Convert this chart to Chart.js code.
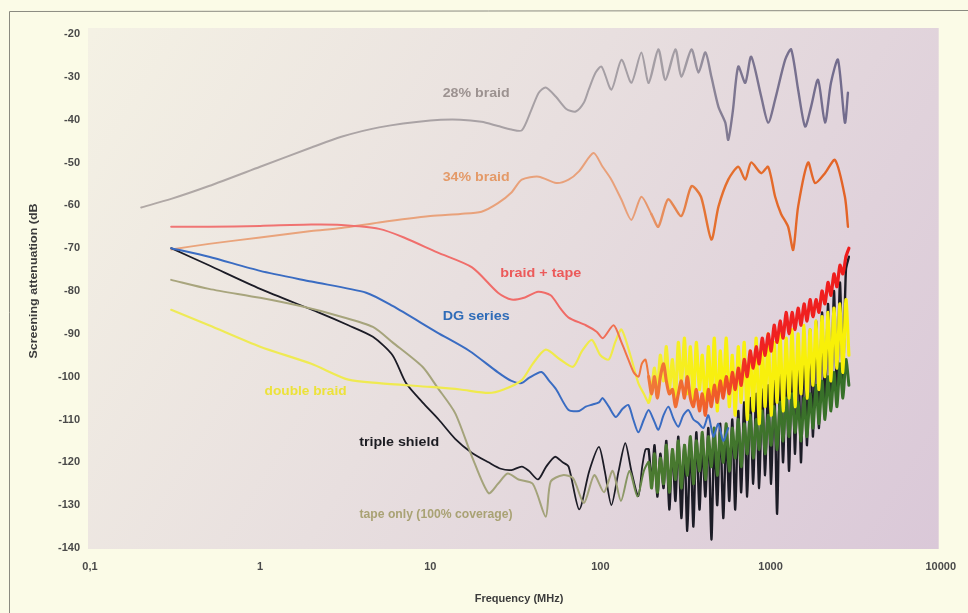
<!DOCTYPE html>
<html><head><meta charset="utf-8">
<script src="https://cdn.jsdelivr.net/npm/chart.js@4/dist/chart.umd.min.js"></script>
<style>html,body{margin:0;padding:0;background:#fbfbe7;}canvas{display:block}</style>
</head><body>
<canvas id="c" width="968" height="613"></canvas>
<script>
// ---------- axis ticks ----------
const xTickValues = [0.1, 1, 10, 100, 1000, 10000];
const xTickLabels = ['0,1', '1', '10', '100', '1000', '10000'];
const yTickValues = [-140, -130, -120, -110, -100, -90, -80, -70, -60, -50, -40, -30, -20];

// ---------- 28% braid ----------
const braid28Freq = [0.2,0.3,0.5,1,2,3,5,10,15,20,25,30,34.5,39,43.4,47.7,54.6,63,71.6,80,85.3,93.7,101.6,116,133,152,174,192,219,241,276,299,343,377,414,449,494,542,564,600,646,710,769,881,968,1064,1219,1321,1452,1596,1730,1901,2089,2265,2489,2735,2850];
const braid28Db = [-60.5,-58.5,-55.5,-51,-46.5,-44,-41.8,-40.2,-40,-40.5,-41.5,-42.3,-42.5,-38,-33.7,-32.5,-34.6,-37.5,-38.1,-36,-33,-29,-27.6,-33,-26,-31.4,-24.3,-31.4,-23.6,-30.7,-23.6,-30,-23.6,-29,-24.3,-30,-37,-40.7,-44.7,-38,-27.6,-31.4,-25.3,-34.6,-40.7,-35.3,-26,-23.6,-33,-41.6,-37,-30.7,-40.7,-31.4,-26,-40.7,-33.7];

// ---------- 34% braid ----------
const braid34Freq = [0.3,0.5,1,2,3,5,10,15,20,25,30,34.5,43.4,55,65,75,91,103,116,133,152,174,199,219,250,299,343,390,449,494,564,646,710,769,881,968,1064,1153,1268,1358,1452,1661,1825,2089,2392,2735,2850];
const braid34Db = [-70.3,-69,-67.5,-66,-65.3,-64,-62.5,-62,-61.5,-59.5,-57,-54,-53.3,-54.8,-54,-52,-47.8,-51,-54,-58.7,-63.4,-58,-62,-65,-58.6,-62.5,-55.5,-58,-68,-60.3,-54,-51,-54,-50,-52.5,-51,-58,-62,-65,-70.4,-60.3,-50,-54.8,-52.5,-49.4,-58,-65];

// ---------- common high-frequency grid (MHz) ----------
const hfFreq = [192,200,208,216,225,235,244,254,265,276,287,299,312,324,338,352,366,382,397,414,431,449,467,486,506,527,549,572,596,620,646,672,700,729,759,791,823,857,893,929,968,1008,1050,1093,1138,1185,1234,1285,1338,1393,1451,1511,1573,1638,1706,1776,1850,1926,2006,2089,2175,2265,2358,2456,2557,2663,2773,2887];

// ---------- braid + tape ----------
const braidTapeLfFreq = [0.3,0.5,1,2,3,5,7,11,17.6,25,30,36,43,51,58,65,82,95,103.5,119.5,133,146,157,167.5,175,184];
const braidTapeLfDb = [-65,-65,-64.8,-64.5,-64.6,-65.5,-67.5,-71,-74.5,-80.4,-82,-81.5,-80.2,-81,-84,-86.2,-88,-89.5,-91,-88,-92,-96,-99,-100,-97,-96];
const braidTapeHfDb = [-100,-104,-100,-105,-100,-97,-101,-104,-103,-107,
  -104,-101,-105,-100,-105,-107,-103,-108,-104,-109,
  -103,-107,-102,-106,-101,-105,-100,-104,-99,-103,
  -98,-102,-96,-100,-94,-98,-93,-97,-91,-95,
  -90,-94,-88,-92,-87,-91,-85,-90,-85,-89,
  -84,-88,-83,-87,-82,-86,-82,-85,-80,-83,
  -78,-81,-76,-79,-74,-76,-72,-70];

// ---------- DG series ----------
const dgFreq = [0.3,0.5,1,2,4.2,6,11,17,25,30,34.5,38,45,50,55,65,75,82,90,98,103,112,123,135,146,156,167,180,192,205,219,235,251,270,287,307,329,352,376,403,431,461,493,527,564];
const dgDb = [-70,-72,-75.3,-77.8,-80.4,-83.5,-89.7,-94,-99,-101,-101.5,-100.3,-98.9,-101,-103,-107.8,-108,-107,-106.5,-106,-105,-107,-109.4,-107.5,-106.6,-110,-113,-110,-107.8,-110,-112.4,-109,-107,-110,-111.7,-109,-107.8,-110,-110.8,-112,-109,-114,-111,-115,-112];

// ---------- double braid ----------
const doubleLfFreq = [0.3,0.5,1,2,3.3,5,10,15,22,27,34.5,40,47.7,58,69,78,89,100,112,122,133,150,167,180];
const doubleLfDb = [-84.4,-88,-93,-97,-100.7,-101.5,-102.4,-103,-103.8,-103,-100.8,-97,-93.7,-96,-97.7,-94,-91.4,-95,-96,-92,-89,-95,-101.5,-104];
const doubleHfDb = [-106,-103,-98,-104,-95,-101,-93,-103,-96,-105,
  -92,-102,-91,-104,-93,-106,-92,-103,-95,-107,
  -93,-105,-91,-108,-94,-104,-91,-107,-95,-109,
  -93,-106,-92,-110,-94,-108,-91,-111,-93,-107,
  -90,-109,-92,-106,-90,-108,-91,-105,-89,-107,
  -90,-104,-88,-105,-89,-102,-87,-103,-86,-100,
  -85,-101,-84,-98,-83,-99,-82,-95];

// ---------- triple shield ----------
const tripleLfFreq = [0.3,0.5,1,2.2,3.3,4.6,6,7.2,9,11.2,14,17.6,22,26,30,34.5,38,43,48,54,60,65,75,86,98,106,116,128,140,152,167,176,184];
const tripleLfDb = [-70,-74,-79.5,-85,-88,-90.7,-95,-101.5,-106,-110,-114.5,-117.8,-120,-121.5,-121.8,-121,-122,-124,-121,-118.7,-120,-121,-131,-122,-116.4,-122,-130,-122,-115.5,-122,-127.9,-121,-117];
const tripleHfDb = [-117,-125,-116,-128,-118,-126,-115,-131,-117,-129,
  -114,-133,-116,-136,-115,-135,-113,-131,-116,-128,
  -112,-138,-114,-130,-111,-133,-113,-129,-110,-131,
  -108,-127,-106,-128,-105,-125,-104,-126,-103,-123,
  -102,-125,-101,-132,-99,-120,-97,-122,-95,-118,
  -93,-120,-91,-116,-89,-114,-87,-112,-85,-109,
  -83,-107,-80,-104,-78,-101,-75,-72];

// ---------- tape only ----------
const tapeLfFreq = [0.3,0.5,1,1.8,3,4.6,6,9,11,14,17.6,22,25,28.5,33,40,47.7,51,60,69,80,92,105,118,132,148,165,180];
const tapeLfDb = [-77.4,-79.5,-81.6,-83.7,-86,-88.4,-92,-97.7,-102.5,-108.5,-118.7,-127.2,-125,-122.6,-124,-125,-132.7,-124.5,-123,-123.7,-129.5,-123,-127,-122,-129,-122,-128,-122];
const tapeHfDb = [-120,-126,-118,-127,-119,-125,-116,-127,-117,-124,
  -115,-126,-116,-123,-114,-125,-115,-122,-113,-124,
  -114,-121,-112,-123,-113,-120,-111,-122,-112,-119,
  -110,-121,-111,-118,-109,-119,-110,-117,-108,-118,
  -109,-116,-107,-117,-106,-115,-105,-114,-104,-113,
  -106,-115,-105,-114,-104,-112,-102,-111,-101,-110,
  -100,-108,-99,-107,-97,-105,-96,-102];

// ---------- in-plot series labels (anchored in data space) ----------
const seriesLabels = [
  {text: '28% braid', f: 18.6, db: -33.9, color: '#9c9290', w: 67},
  {text: '34% braid', f: 18.6, db: -53.5, color: '#e49a68', w: 67},
  {text: 'braid + tape', f: 44.6, db: -76, color: '#ec5a5a', w: 81},
  {text: 'DG series', f: 18.6, db: -86, color: '#2f6cb8', w: 67},
  {text: 'double braid', f: 1.85, db: -103.5, color: '#ece23a', w: 82},
  {text: 'triple shield', f: 6.56, db: -115.5, color: '#1c1c22', w: 80},
  {text: 'tape only (100% coverage)', f: 10.8, db: -132.3, color: '#a9a274', w: 153}
];

// ---------- helpers ----------
function pts(fr, db) { return fr.map((f, i) => ({x: f, y: db[i]})); }
function hGrad(chart, stops) {
  const {ctx, chartArea, scales} = chart;
  if (!chartArea) return stops[0][1];
  const x0 = scales.x.getPixelForValue(0.1), x1 = scales.x.getPixelForValue(10000);
  const g = ctx.createLinearGradient(x0, 0, x1, 0);
  stops.forEach(([f, c]) => g.addColorStop((Math.log10(f) + 1) / 5, c));
  return g;
}
const hfWidth = (lo, hi) => ({borderWidth: s => (s.p0.parsed.x >= 188 ? hi : lo)});

const datasets = [
  {label: '28% braid', data: pts(braid28Freq, braid28Db), order: 7, borderWidth: 2, segment: hfWidth(2, 2.4),
   borderColor: c => hGrad(c.chart, [[0.1,'#b2aaa6'],[300,'#a39da4'],[600,'#7d7690'],[10000,'#68628a']])},
  {label: '34% braid', data: pts(braid34Freq, braid34Db), order: 6, borderWidth: 2, segment: hfWidth(2, 2.4),
   borderColor: c => hGrad(c.chart, [[0.1,'#eaa57c'],[150,'#e8a07a'],[450,'#e4702e'],[10000,'#e25a22']])},
  {label: 'triple shield', data: pts(tripleLfFreq, tripleLfDb).concat(pts(hfFreq, tripleHfDb)), order: 5, borderWidth: 1.8,
   segment: hfWidth(1.8, 2.4), borderColor: '#1c1c26'},
  {label: 'tape only', data: pts(tapeLfFreq, tapeLfDb).concat(pts(hfFreq, tapeHfDb)), order: 4, borderWidth: 2,
   segment: hfWidth(2, 3),
   borderColor: c => hGrad(c.chart, [[0.1,'#aaa67e'],[120,'#a2a27a'],[200,'#4a7a30'],[10000,'#2c6a24']])},
  {label: 'DG series', data: pts(dgFreq, dgDb), order: 3, borderWidth: 2, borderColor: '#3a6cc2'},
  {label: 'double braid', data: pts(doubleLfFreq, doubleLfDb).concat(pts(hfFreq, doubleHfDb)), order: 2, borderWidth: 2.2,
   segment: hfWidth(2.2, 3.2),
   borderColor: c => hGrad(c.chart, [[0.1,'#eeea5a'],[150,'#f0ea48'],[400,'#f8f010'],[10000,'#f8f000']])},
  {label: 'braid + tape', data: pts(braidTapeLfFreq, braidTapeLfDb).concat(pts(hfFreq, braidTapeHfDb)), order: 1, borderWidth: 2,
   segment: hfWidth(2, 3.2),
   borderColor: c => hGrad(c.chart, [[0.1,'#f07878'],[80,'#f06a66'],[200,'#f07838'],[500,'#f05a28'],[800,'#f02222'],[10000,'#ee1818']])}
];

const bgPlugin = {
  id: 'bg',
  beforeDraw(chart) {
    const {ctx, chartArea: a} = chart;
    ctx.save();
    ctx.strokeStyle = '#8a8a80'; ctx.lineWidth = 1;
    ctx.beginPath(); ctx.moveTo(9.5, 613); ctx.lineTo(9.5, 11.5); ctx.lineTo(968, 10.5); ctx.stroke();
    const g = ctx.createLinearGradient(a.left, a.top, a.right, a.bottom);
    g.addColorStop(0, '#f4f1e4');
    g.addColorStop(0.45, '#e8dfdf');
    g.addColorStop(1, '#dac8d8');
    ctx.fillStyle = g;
    ctx.fillRect(a.left - 2, a.top - 6, a.right - a.left, a.bottom - a.top + 7);
    ctx.restore();
  },
  afterDraw(chart) {
    const {ctx, scales} = chart;
    ctx.save();
    ctx.fillStyle = '#3c3c3c';
    ctx.font = 'bold 11px "Liberation Sans", Arial, sans-serif';
    ctx.textAlign = 'center'; ctx.textBaseline = 'middle';
    ctx.fillText('Frequency (MHz)', 519, 599);
    ctx.save();
    ctx.translate(34, 281); ctx.rotate(-Math.PI / 2);
    const t = 'Screening attenuation (dB';
    const m = ctx.measureText(t).width;
    ctx.scale(155 / m, 1);
    ctx.fillText(t, 0, 0);
    ctx.restore();
    ctx.font = 'bold 12px "Liberation Sans", Arial, sans-serif';
    seriesLabels.forEach(l => {
      const px = scales.x.getPixelForValue(l.f), py = scales.y.getPixelForValue(l.db);
      const mw = ctx.measureText(l.text).width;
      ctx.save();
      ctx.translate(px, py); ctx.scale(l.w / mw, 1);
      ctx.fillStyle = l.color;
      ctx.fillText(l.text, 0, 0);
      ctx.restore();
    });
    ctx.restore();
  }
};

const tickFont = {family: '"Liberation Sans", Arial, sans-serif', size: 11, weight: 'bold'};

new Chart(document.getElementById('c'), {
  type: 'line',
  data: {datasets},
  options: {
    responsive: false, animation: false, devicePixelRatio: 1,
    layout: {padding: {top: 34, right: 25, left: 0, bottom: 0}},
    plugins: {legend: {display: false}, tooltip: {enabled: false}},
    elements: {point: {radius: 0}, line: {tension: 0.25, borderJoinStyle: 'round', borderCapStyle: 'round'}},
    scales: {
      x: {
        type: 'logarithmic', min: 0.1, max: 10000,
        afterBuildTicks: s => { s.ticks = xTickValues.map(v => ({value: v})); },
        afterFit: s => { s.height = 65; },
        ticks: {autoSkip: false, maxRotation: 0, padding: 12, font: tickFont, color: '#4a4a4a',
          callback: v => { const i = xTickValues.indexOf(v); return i >= 0 ? xTickLabels[i] : ''; }},
        grid: {display: false, drawTicks: false}, border: {display: false}
      },
      y: {
        type: 'linear', min: -140, max: -20,
        afterBuildTicks: s => { s.ticks = yTickValues.map(v => ({value: v})); },
        afterFit: s => { s.width = 90; },
        ticks: {padding: 10, font: tickFont, color: '#4a4a4a'},
        grid: {display: false, drawTicks: false}, border: {display: false}
      }
    }
  },
  plugins: [bgPlugin]
});
</script>
</body></html>
